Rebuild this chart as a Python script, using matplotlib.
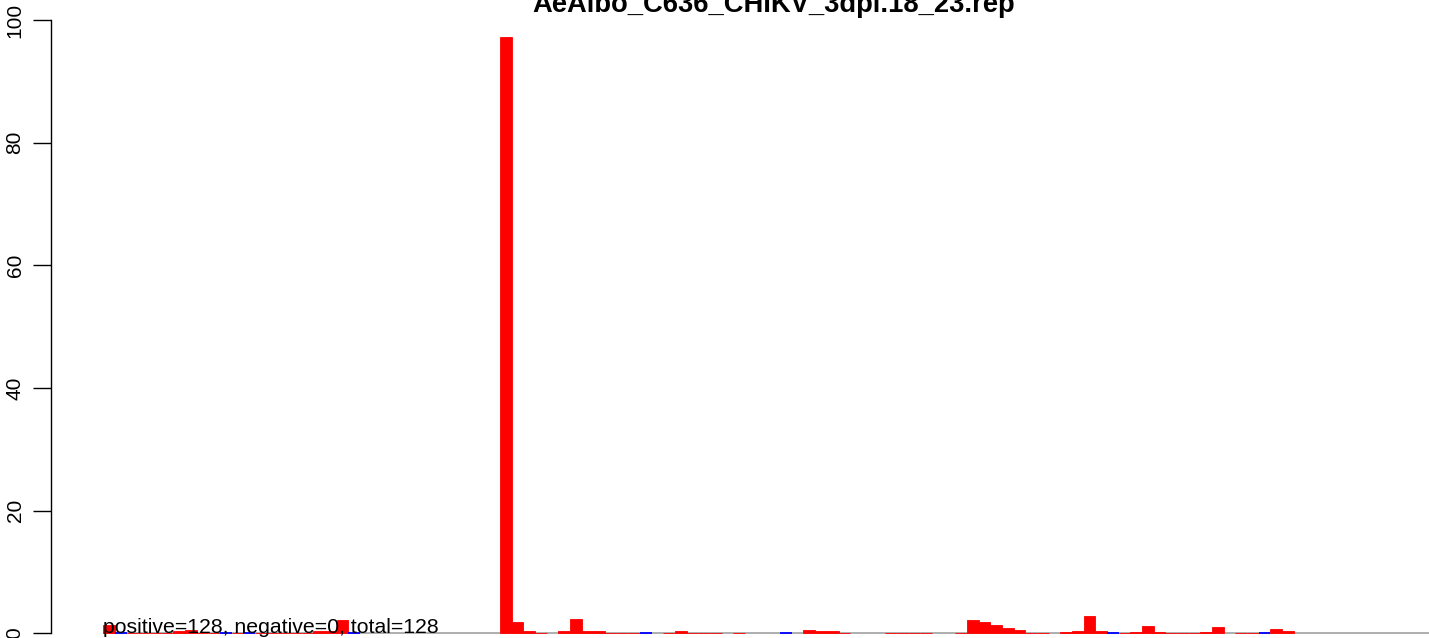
"""
Read-position profile for AeAlbo_C636_CHIKV_3dpi.18_23.rep
"""
import matplotlib.pyplot as plt
import numpy as np

title = "AeAlbo_C636_CHIKV_3dpi.18_23.rep"
summary = "positive=128, negative=0, total=128"

# positive strand signal per bin (percent), 102 bins
positive = [
    1.4, 0, 0.1, 0.1, 0.1, 0.1, 0.3, 0.5, 0.1, 0.1,
    0, 0.1, 0, 0.1, 0.1, 0.1, 0.1, 0.1, 0.3, 0.3,
    2.2, 0, 0, 0, 0, 0, 0, 0, 0, 0,
    0, 0, 0, 0, 97.3, 1.9, 0.3, 0.1, 0, 0.3,
    2.3, 0.4, 0.3, 0.1, 0.1, 0.1, 0, 0, 0.1, 0.3,
    0.1, 0.1, 0.1, 0, 0.1, 0, 0, 0, 0, 0,
    0.55, 0.3, 0.3, 0.1, 0, 0, 0, 0.1, 0.1, 0.1,
    0.1, 0, 0, 0.1, 2.2, 1.85, 1.35, 0.85, 0.55, 0.1,
    0.1, 0, 0.2, 0.35, 2.85, 0.35, 0, 0.1, 0.2, 1.2,
    0.2, 0.1, 0.1, 0.1, 0.2, 1.0, 0, 0.1, 0.1, 0,
    0.7, 0.35,
]
# bins where an (empty) negative strand bar is drawn
negative_bins = [1, 10, 12, 21, 46, 58, 86, 99]

yticks = [0, 20, 40, 60, 80, 100]

plt.rcParams['font.family'] = ['Liberation Sans', 'DejaVu Sans']

W, H = 1429, 638
fig = plt.figure(figsize=(W / 100, H / 100), dpi=100)
ax = fig.add_axes([51 / W, 0, 1 - 51 / W, 1])

bin_w = 11.67
x0_px = 103.3
ax.set_xlim((51 - x0_px) / bin_w, (W - x0_px) / bin_w)
y0_px, per_unit = 633.3, 6.133
ax.set_ylim(-(H - y0_px) / per_unit, y0_px / per_unit)

n = len(positive)
x = np.arange(n)
ax.hlines(0, 0, (W - x0_px) / bin_w, color='#a8a8a8', lw=1.3, zorder=1)

pos = np.array(positive)
mask = pos > 0
ax.bar(x[mask], pos[mask], width=1, align='edge', color='red',
       edgecolor='red', linewidth=0.6, zorder=2)
ax.hlines([0] * len(negative_bins), negative_bins,
          [b + 1 for b in negative_bins], color='blue', lw=1.3, zorder=2)

for s in ['top', 'right', 'bottom']:
    ax.spines[s].set_visible(False)
ax.spines['left'].set_bounds(0, 100)
ax.spines['left'].set_linewidth(1.0)
ax.set_xticks([])
ax.set_yticks(yticks)
ax.set_yticklabels([str(t) for t in yticks], rotation=90, va='center',
                   fontsize=15)
ax.tick_params(axis='y', length=13, width=1.0, pad=6)

ax.text(0, 0, summary, ha='left', va='baseline', fontsize=15.3, zorder=3)
fig.text(774 / W, 1 - 12 / H, title, ha='center', va='baseline',
         fontsize=19.7, fontweight='bold')

plt.savefig('out.png', dpi=100)
plt.close()
